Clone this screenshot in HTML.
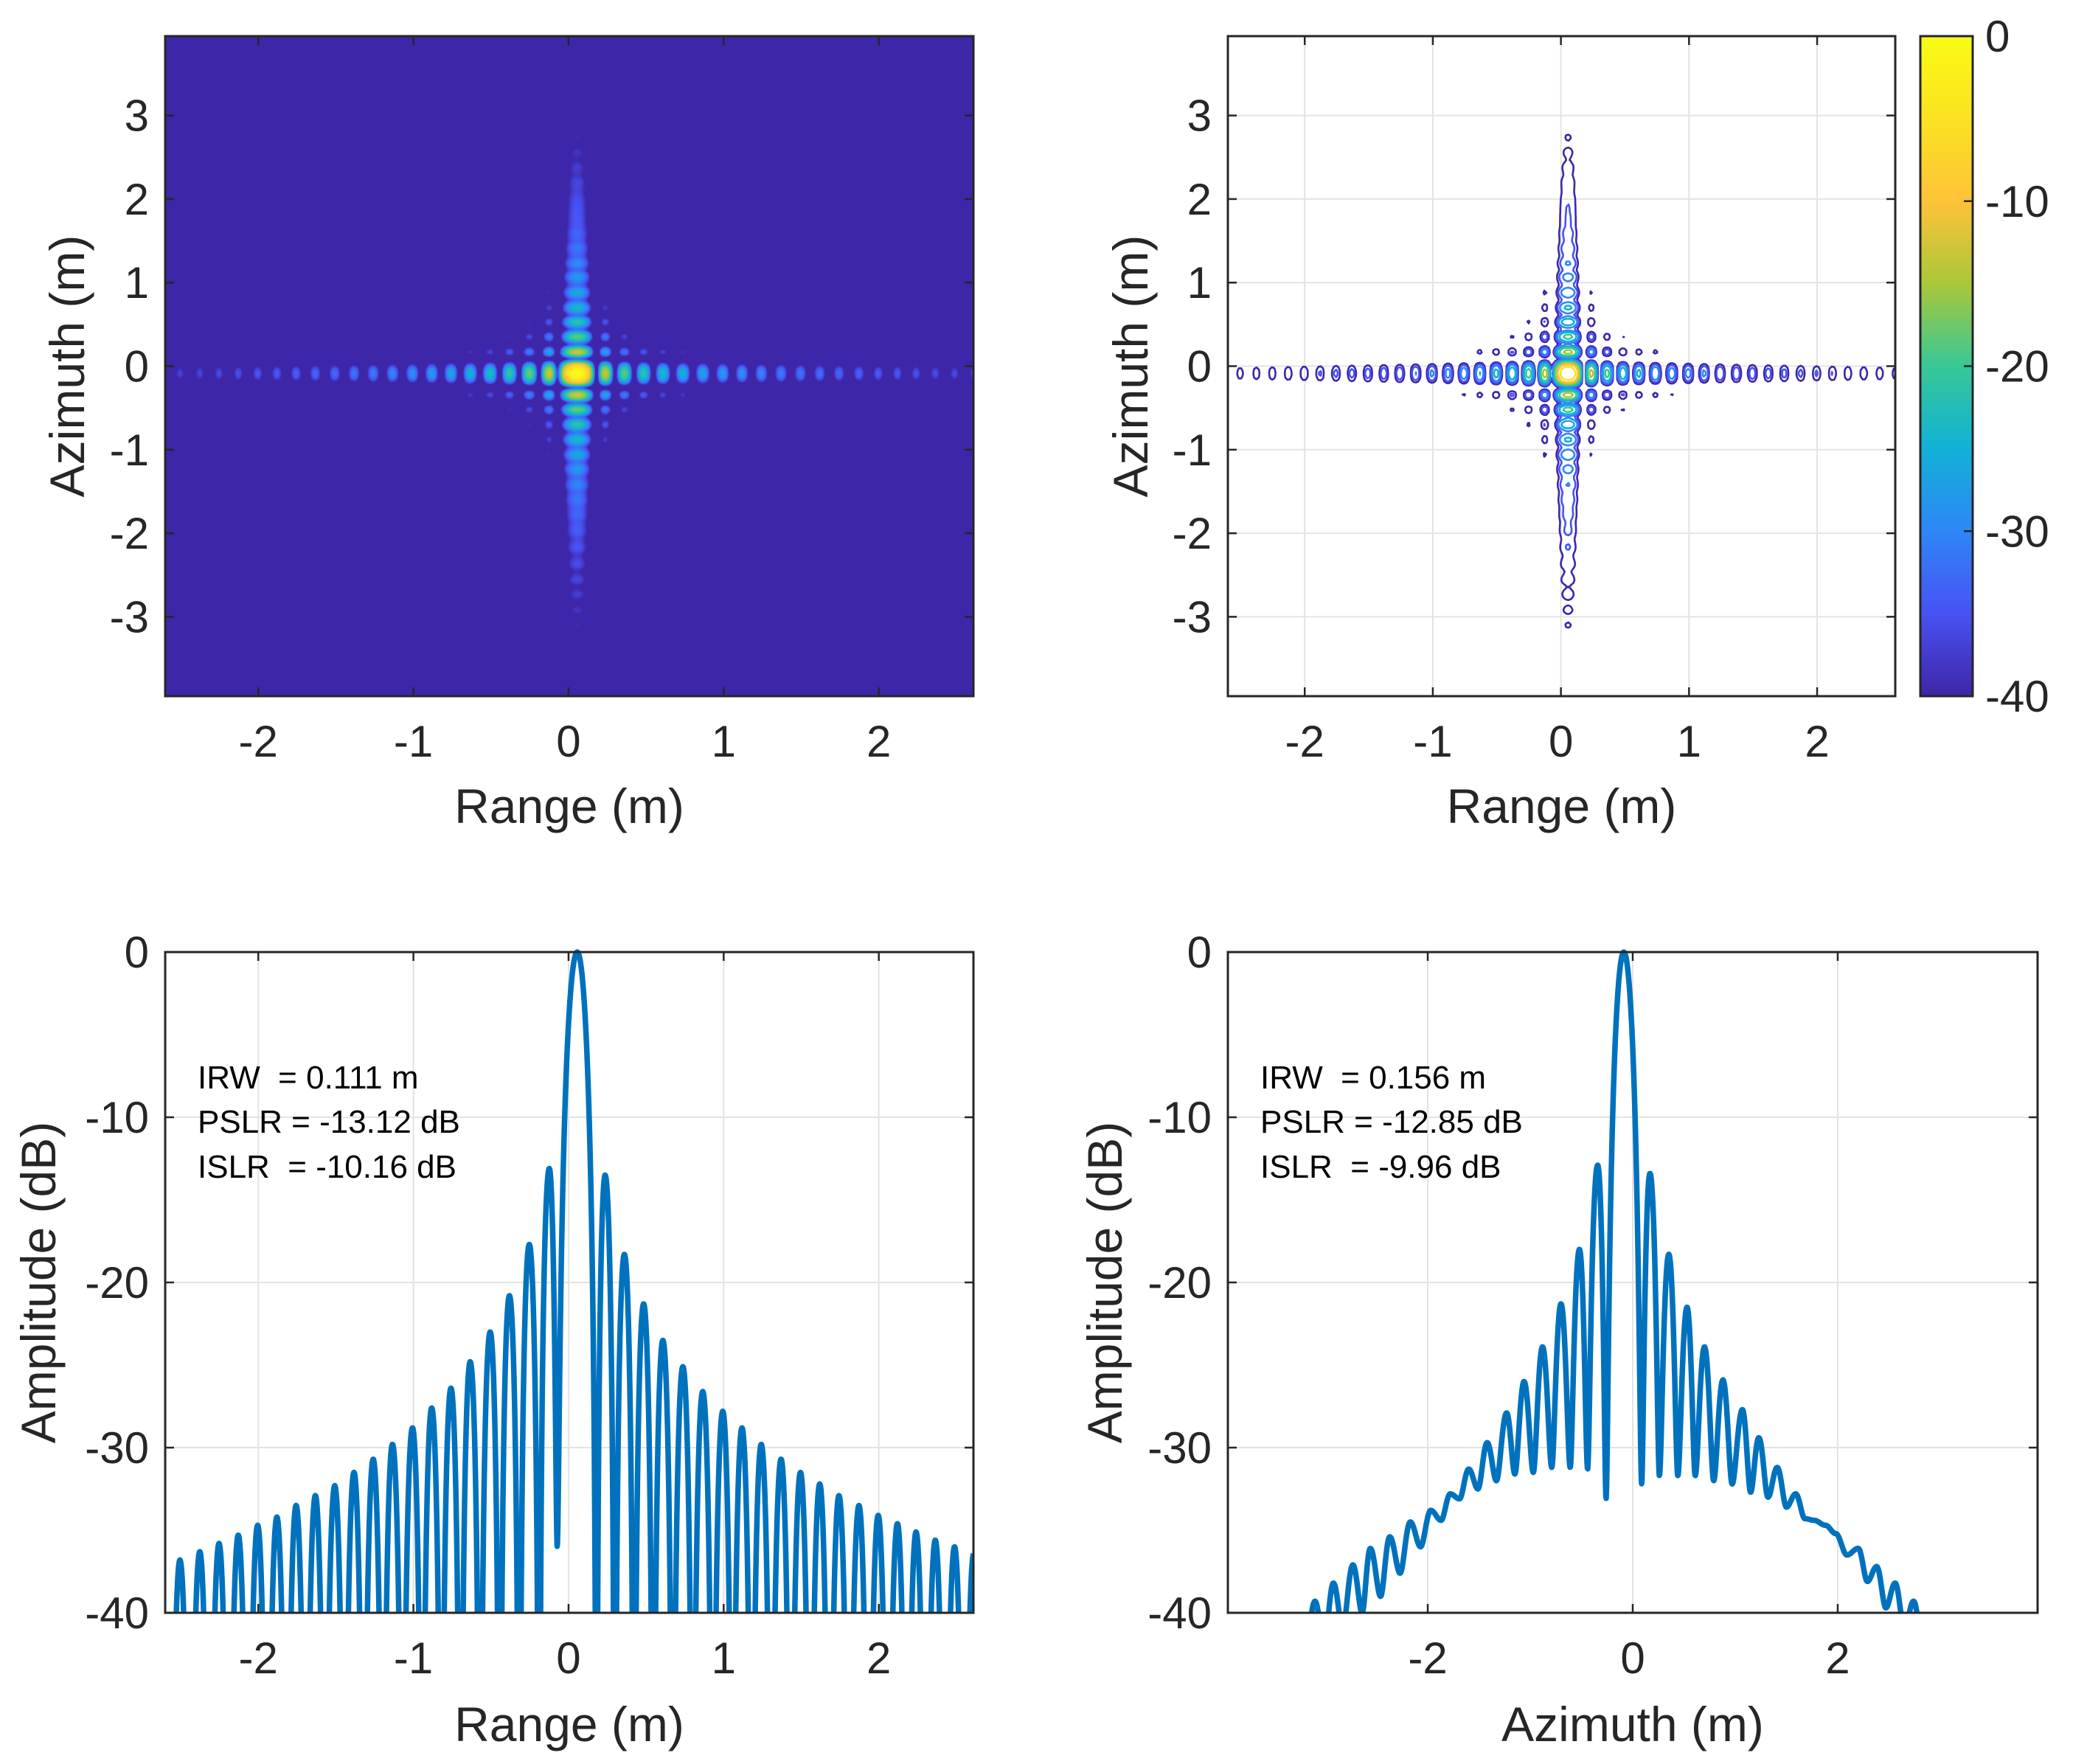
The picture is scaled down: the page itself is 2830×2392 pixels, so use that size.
<!DOCTYPE html>
<html><head><meta charset="utf-8">
<style>
html,body{margin:0;padding:0;background:#fff;}
body{width:2830px;height:2392px;position:relative;overflow:hidden;font-family:"Liberation Sans",Arial,sans-serif;}
#heat{position:absolute;left:224px;top:49px;}
#cbar{position:absolute;left:2604px;top:49px;}
svg{position:absolute;left:0;top:0;}
</style></head>
<body>
<canvas id="heat" width="1096" height="895"></canvas>
<canvas id="cbar" width="71" height="895"></canvas>
<svg id="svg" width="2830" height="2392" xmlns="http://www.w3.org/2000/svg"></svg>
<script>
// ---------- data ----------
const rangeX = [-2.567,-2.505,-2.441,-2.377,-2.315,-2.253,-2.191,-2.129,-2.066,-2.004,-1.942,-1.880,-1.818,-1.756,-1.694,-1.632,-1.570,-1.507,-1.445,-1.383,-1.321,-1.259,-1.197,-1.135,-1.070,-1.006,-0.944,-0.882,-0.820,-0.758,-0.696,-0.634,-0.570,-0.505,-0.443,-0.381,-0.317,-0.253,-0.189,-0.124,-0.073,0.056,0.180,0.236,0.298,0.360,0.422,0.484,0.546,0.608,0.672,0.737,0.801,0.865,0.930,0.994,1.056,1.118,1.180,1.242,1.306,1.370,1.432,1.495,1.557,1.619,1.681,1.743,1.807,1.872,1.934,1.996,2.058,2.120,2.180,2.240,2.302,2.364,2.426,2.488,2.550,2.612,2.674];
const rangeDB = [-80,-36.8,-80,-36.3,-80,-35.8,-80,-35.3,-80,-34.7,-80,-34.2,-80,-33.5,-80,-32.9,-80,-32.3,-80,-31.5,-80,-30.7,-80,-29.8,-80,-28.8,-80,-27.6,-80,-26.4,-80,-24.8,-80,-23.0,-80,-20.8,-80,-17.7,-80,-13.1,-36,0,-80,-13.5,-80,-18.3,-80,-21.3,-80,-23.5,-80,-25.1,-80,-26.6,-80,-27.8,-80,-28.8,-80,-29.8,-80,-30.7,-80,-31.5,-80,-32.2,-80,-32.9,-80,-33.5,-80,-34.1,-80,-34.6,-80,-35.1,-80,-35.6,-80,-36.0,-80,-36.4,-80];
const azX = [-3.19,-3.10,-3.01,-2.92,-2.83,-2.73,-2.64,-2.56,-2.46,-2.37,-2.27,-2.17,-2.07,-1.97,-1.87,-1.78,-1.69,-1.60,-1.51,-1.42,-1.33,-1.23,-1.15,-1.06,-0.97,-0.88,-0.79,-0.70,-0.61,-0.52,-0.44,-0.342,-0.26,-0.087,0.087,0.168,0.26,0.352,0.44,0.53,0.61,0.70,0.79,0.88,0.97,1.07,1.15,1.23,1.32,1.41,1.50,1.59,1.68,1.77,1.88,1.98,2.09,2.20,2.29,2.38,2.47,2.56,2.65,2.74,2.83];
const azDB = [-42,-39.3,-42,-38.2,-41,-37.1,-40,-36.1,-39,-35.4,-37.6,-34.5,-36.0,-33.8,-34.4,-32.8,-33.1,-31.3,-32.5,-29.7,-32.0,-27.9,-31.6,-26.0,-31.5,-23.9,-31.2,-21.3,-31.2,-18.0,-31.3,-12.9,-33.1,0,-32.2,-13.4,-31.7,-18.3,-31.7,-21.5,-31.7,-23.9,-32.0,-25.9,-32.2,-27.7,-32.7,-29.4,-33.0,-31.2,-33.6,-32.8,-34.3,-34.4,-34.7,-35.2,-36.5,-36.1,-38.1,-37.2,-39.7,-38.2,-41,-39.3,-42];
const contourLevels = [-40,-35,-30,-25,-20,-15,-10,-5];
const xTicksRange = [-2,-1,0,1,2];
const yTicksAz = [-3,-2,-1,0,1,2,3];
const yTicksDB = [-40,-30,-20,-10,0];
const xTicksAz = [-2,0,2];
const cbTicks = [0,-10,-20,-30,-40];
const annoRange = ["IRW  = 0.111 m","PSLR = -13.12 dB","ISLR  = -10.16 dB"];
const annoAz = ["IRW  = 0.156 m","PSLR = -12.85 dB","ISLR  = -9.96 dB"];

// ---------- helpers ----------
const NS="http://www.w3.org/2000/svg";
const svg=document.getElementById('svg');
function el(tag,attrs,parent){const e=document.createElementNS(NS,tag);for(const k in attrs)e.setAttribute(k,attrs[k]);(parent||svg).appendChild(e);return e;}
function profile(xs,ds,x){
  if(x<=xs[0]||x>=xs[xs.length-1])return -80;
  let i=0;while(i<xs.length-2&&x>=xs[i+1])i++;
  const s=(x-xs[i])/(xs[i+1]-xs[i]);
  const a0=Math.pow(10,ds[i]/20),a1=Math.pow(10,ds[i+1]/20);
  const w=(1-Math.cos(Math.PI*s))/2;
  const a=a0+(a1-a0)*w;
  return 20*Math.log10(Math.max(a,1e-5));
}
const P=[[0,62,38,168],[0.125,72,82,244],[0.25,46,135,247],[0.375,18,177,214],[0.5,55,200,151],[0.625,171,199,57],[0.75,254,195,56],[0.875,251,226,34],[1,249,251,21]];
function parula(t){t=Math.max(0,Math.min(1,t));for(let i=0;i<P.length-1;i++){if(t<=P[i+1][0]){const s=(t-P[i][0])/(P[i+1][0]-P[i][0]);return [0,1,2].map(k=>Math.round(P[i][k+1]+(P[i+1][k+1]-P[i][k+1])*s));}}return [249,251,21];}
function mkAxes(x0,x1,y0,y1,xmin,xmax,ymin,ymax){return {x0,x1,y0,y1,sx:v=>x0+(v-xmin)/(xmax-xmin)*(x1-x0),sy:v=>y1-(v-ymin)/(ymax-ymin)*(y1-y0),ix:p=>xmin+(p-x0)/(x1-x0)*(xmax-xmin),iy:p=>ymin+(y1-p)/(y1-y0)*(ymax-ymin)};}
const A1=mkAxes(224,1320,49,944,-2.6,2.61,-3.95,3.95);
const A2=mkAxes(1665,2570,49,944,-2.6,2.61,-3.95,3.95);
const A3=mkAxes(224,1320,1291,2187,-2.6,2.61,-40,0);
const A4=mkAxes(1665,2763,1291,2187,-3.95,3.95,-40,0);

// ---------- heatmap ----------
(function(){
  const c=document.getElementById('heat'),ctx=c.getContext('2d');
  const W=c.width,H=c.height,img=ctx.createImageData(W,H);
  const rc=[],ar=[];
  for(let i=0;i<W;i++)rc.push(profile(rangeX,rangeDB,A1.ix(A1.x0+i+0.5)));
  for(let j=0;j<H;j++)ar.push(profile(azX,azDB,A1.iy(A1.y0+j+0.5)));
  for(let j=0;j<H;j++)for(let i=0;i<W;i++){
    const v=Math.max(-40,rc[i]+ar[j]);const col=parula((v+40)/40);const o=(j*W+i)*4;
    img.data[o]=col[0];img.data[o+1]=col[1];img.data[o+2]=col[2];img.data[o+3]=255;}
  ctx.putImageData(img,0,0);
  const cb=document.getElementById('cbar'),cx=cb.getContext('2d');
  for(let j=0;j<cb.height;j++){const col=parula(1-j/(cb.height-1));cx.fillStyle=`rgb(${col})`;cx.fillRect(0,j,cb.width,1);}
})();

// ---------- axes decorations ----------
function frame(A,name,xt,yt){
  const g=el('g',{});
  
  
  xt.forEach(v=>{const l=el('line',{x1:A.sx(v),x2:A.sx(v),y1:A.y0,y2:A.y1,stroke:'#e3e3e3','stroke-width':2},g);});
  yt.forEach(v=>{const l=el('line',{x1:A.x0,x2:A.x1,y1:A.sy(v),y2:A.sy(v),stroke:'#e3e3e3','stroke-width':2},g);});
}
function box(A,name,xt,yt,xlab,ylab,ylabX,xlabY){
  const g=el('g',{});
  
  
  xt.forEach(v=>{const x=A.sx(v);
    el('line',{x1:x,x2:x,y1:A.y1,y2:A.y1-12,stroke:'#262626','stroke-width':2.5},g);
    el('line',{x1:x,x2:x,y1:A.y0,y2:A.y0+12,stroke:'#262626','stroke-width':2.5},g);
    const t=el('text',{x:x,y:A.y1+82,'text-anchor':'middle','font-size':60,fill:'#262626'},g);t.textContent=String(v);
    });
  yt.forEach(v=>{const y=A.sy(v);
    el('line',{x1:A.x0,x2:A.x0+12,y1:y,y2:y,stroke:'#262626','stroke-width':2.5},g);
    el('line',{x1:A.x1,x2:A.x1-12,y1:y,y2:y,stroke:'#262626','stroke-width':2.5},g);
    const t=el('text',{x:A.x0-22,y:y+21,'text-anchor':'end','font-size':60,fill:'#262626'},g);t.textContent=String(v);
    });
  const r=el('rect',{x:A.x0,y:A.y0,width:A.x1-A.x0,height:A.y1-A.y0,fill:'none',stroke:'#262626','stroke-width':3},g);
  
  const xl=el('text',{x:(A.x0+A.x1)/2,y:A.y1+xlabY,'text-anchor':'middle','font-size':66,fill:'#262626'},g);xl.textContent=xlab;
  
  const cy=(A.y0+A.y1)/2;
  const yl=el('text',{x:ylabX,y:cy,'text-anchor':'middle','font-size':66,fill:'#262626',transform:`rotate(-90 ${ylabX} ${cy})`},g);yl.textContent=ylab;
  
}
frame(A2,'contour-grid',xTicksRange,yTicksAz);
frame(A3,'range-profile-grid',xTicksRange,yTicksDB);
frame(A4,'azimuth-profile-grid',xTicksAz,yTicksDB);

// ---------- contour (marching squares) ----------
(function(){
  const step=3,nx=Math.floor((A2.x1-A2.x0)/step)+1,ny=Math.floor((A2.y1-A2.y0)/step)+1;
  const rx=[],ay=[];
  for(let i=0;i<nx;i++)rx.push(profile(rangeX,rangeDB,A2.ix(A2.x0+i*step)));
  for(let j=0;j<ny;j++)ay.push(profile(azX,azDB,A2.iy(A2.y0+j*step)));
  const g=el('g',{});
  
  
  contourLevels.forEach(L=>{
    let d='';
    const f=(i,j)=>rx[i]+ay[j];
    for(let j=0;j<ny-1;j++)for(let i=0;i<nx-1;i++){
      const v=[f(i,j),f(i+1,j),f(i+1,j+1),f(i,j+1)];
      const px=[A2.x0+i*step,A2.x0+(i+1)*step,A2.x0+(i+1)*step,A2.x0+i*step];
      const py=[A2.y0+j*step,A2.y0+j*step,A2.y0+(j+1)*step,A2.y0+(j+1)*step];
      const pts=[];
      for(let k=0;k<4;k++){const a=v[k],b=v[(k+1)%4];
        if((a>=L)!==(b>=L)){const t=(L-a)/(b-a);pts.push([px[k]+(px[(k+1)%4]-px[k])*t,py[k]+(py[(k+1)%4]-py[k])*t]);}}
      if(pts.length>=2)d+=`M${pts[0][0].toFixed(1)} ${pts[0][1].toFixed(1)}L${pts[1][0].toFixed(1)} ${pts[1][1].toFixed(1)}`;
      if(pts.length===4)d+=`M${pts[2][0].toFixed(1)} ${pts[2][1].toFixed(1)}L${pts[3][0].toFixed(1)} ${pts[3][1].toFixed(1)}`;
    }
    const col=parula((L+40)/40);
    const p=el('path',{d:d,stroke:`rgb(${col})`,'stroke-width':2.6,fill:'none','stroke-linecap':'round'},g);
    
    
  });
})();

// ---------- profiles ----------
el('defs',{}).innerHTML='<clipPath id="c3"><rect x="224" y="1280" width="1096" height="907"/></clipPath><clipPath id="c4"><rect x="1665" y="1280" width="1098" height="907"/></clipPath>';
function drawProfile(A,xs,ds,clip,name){
  let d='';
  for(let p=A.x0;p<=A.x1;p+=0.5){const v=profile(xs,ds,A.ix(p));d+=(d?'L':'M')+p.toFixed(1)+' '+Math.min(A.y1+60,A.sy(v)).toFixed(1);}
  const path=el('path',{d:d,fill:'none',stroke:'#0072bd','stroke-width':7.5,'stroke-linejoin':'round','clip-path':`url(#${clip})`});
  
  
}
drawProfile(A3,rangeX,rangeDB,'c3','range-profile-line');
drawProfile(A4,azX,azDB,'c4','azimuth-profile-line');

// ---------- boxes / labels ----------
box(A1,'heatmap-axes',xTicksRange,yTicksAz,'Range (m)','Azimuth (m)',114,172);
box(A2,'contour-axes',xTicksRange,yTicksAz,'Range (m)','Azimuth (m)',1556,172);
box(A3,'range-profile-axes',xTicksRange,yTicksDB,'Range (m)','Amplitude (dB)',75,174);
box(A4,'azimuth-profile-axes',xTicksAz,yTicksDB,'Azimuth (m)','Amplitude (dB)',1521,174);

// colorbar
(function(){
  const g=el('g',{});
  
  
  el('rect',{x:2604,y:49,width:71,height:895,fill:'none',stroke:'#262626','stroke-width':3},g);
  cbTicks.forEach(v=>{const y=49+(0-v)/40*895;
    el('line',{x1:2663,x2:2675,y1:y,y2:y,stroke:'#262626','stroke-width':2.5},g);
    const t=el('text',{x:2692,y:y+21,'font-size':60,fill:'#262626'},g);t.textContent=String(v);
    });
})();

// annotations
function anno(lines,x,name){
  const g=el('g',{});
  
  
  const ys=[1476,1536,1597];
  lines.forEach((s,i)=>{const t=el('text',{x:x,y:ys[i],'font-size':44,fill:'#000',style:'white-space:pre'},g);t.textContent=s;
    });
}
anno(annoRange,268,'range-metrics');
anno(annoAz,1709,'azimuth-metrics');
</script>
</body></html>
